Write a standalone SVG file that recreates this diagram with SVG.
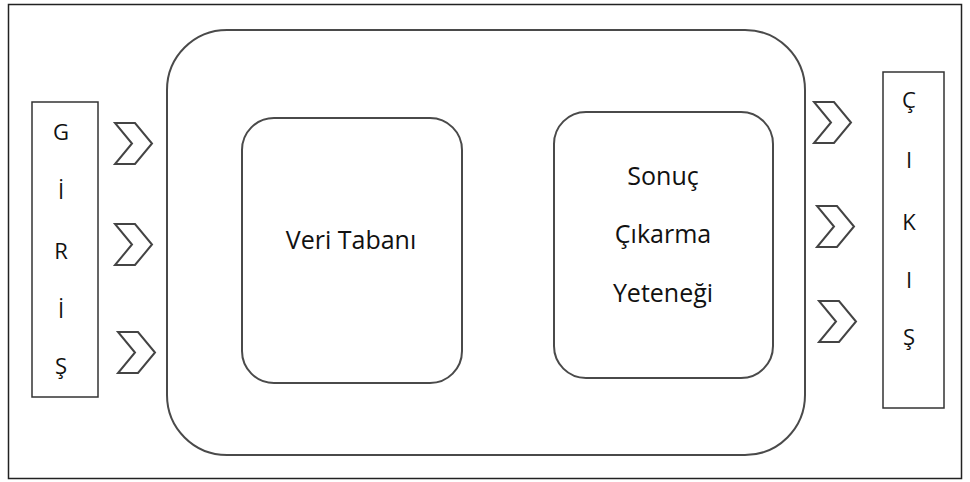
<svg xmlns="http://www.w3.org/2000/svg" width="970" height="482" viewBox="0 0 970 482">
<style>
.t{font-family:"Open Sans","Liberation Sans",sans-serif;font-size:25px;fill:#111;text-anchor:middle}
.s{font-family:"Open Sans","Liberation Sans",sans-serif;font-size:22px;fill:#111;text-anchor:middle}
.rr{fill:#fff;stroke:#4a4a4a;stroke-width:2}
.bx{fill:#fff;stroke:#333;stroke-width:1.5}
.ch{fill:#fff;stroke:#444;stroke-width:2;stroke-linejoin:miter}
</style>
<defs>
<path id="chev" d="M0,0 H20 L37,20.5 L20,41 H0 L17,20.5 Z"/>
</defs>
<rect x="8.5" y="4.5" width="953" height="474" fill="#fff" stroke="#222" stroke-width="1.5"/>
<g id="sistem">
<rect class="rr" x="167" y="30" width="638" height="425" rx="60" ry="60"/>
</g>
<g id="giris">
<rect class="bx" x="32" y="102" width="66" height="295"/>
<text class="s" x="61" y="140">G</text>
<text class="s" x="61" y="199">İ</text>
<text class="s" x="61" y="259">R</text>
<text class="s" x="61" y="318">İ</text>
<text class="s" x="61" y="374">Ş</text>
</g>
<g id="cikis">
<rect class="bx" x="883" y="72" width="61" height="336"/>
<text class="s" x="909" y="108">Ç</text>
<text class="s" x="909" y="168">I</text>
<text class="s" x="909" y="230">K</text>
<text class="s" x="909" y="288">I</text>
<text class="s" x="909" y="345">Ş</text>
</g>
<g id="veri-tabani">
<rect class="rr" x="242" y="118" width="220" height="265" rx="32" ry="32"/>
<text class="t" x="351" y="249">Veri Tabanı</text>
</g>
<g id="sonuc-cikarma">
<rect class="rr" x="554" y="112" width="219" height="266" rx="32" ry="32"/>
<text class="t" x="663" y="185">Sonuç</text>
<text class="t" x="663" y="243">Çıkarma</text>
<text class="t" x="663" y="302">Yeteneği</text>
</g>
<g id="connectors">
<use href="#chev" class="ch" transform="translate(115,123)"/>
<use href="#chev" class="ch" transform="translate(115,224)"/>
<use href="#chev" class="ch" transform="translate(118,332)"/>
<use href="#chev" class="ch" transform="translate(814,102)"/>
<use href="#chev" class="ch" transform="translate(817,206)"/>
<use href="#chev" class="ch" transform="translate(819,301)"/>
</g>
</svg>
